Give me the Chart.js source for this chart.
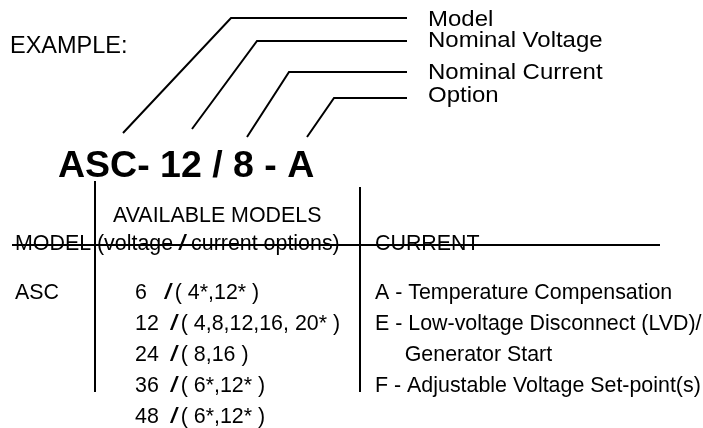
<!DOCTYPE html>
<html>
<head>
<meta charset="utf-8">
<script src="https://cdn.jsdelivr.net/npm/chart.js@4"></script>
<style>
    body { margin: 0; background: #fff; }
    canvas { display: block; }
</style>
</head>
<body>
<canvas id="chart" width="703" height="428"></canvas>
<script>
// part number example
const partNumber = 'ASC- 12 / 8 - A';
const partFields = ['Model', 'Nominal Voltage', 'Nominal Current', 'Option'];
const fieldLabelY = [20, 41, 73, 96];

// leader lines, one polyline for each field (diagram units)
const leaderLines = [
    [[123, 133], [231, 18], [407, 18]],
    [[192, 129], [257, 41], [407, 41]],
    [[247, 137], [289, 72], [407, 72]],
    [[307, 137], [334, 98], [407, 98]]
];

// table rules
const tableLines = [
    [[95, 181], [95, 392]],
    [[360, 187], [360, 392]],
    [[12, 245], [660, 245]]
];

// available models table
const modelName = 'ASC';
const voltages = ['6', '12', '24', '36', '48'];
const currents = ['( 4*,12* )', '( 4,8,12,16, 20* )', '( 8,16 )', '( 6*,12* )', '( 6*,12* )'];
const optionCodes = ['A - Temperature Compensation', 'E - Low-voltage Disconnect (LVD)/', '     Generator Start', 'F - Adjustable Voltage Set-point(s)'];

const font = '"Liberation Sans", Arial, sans-serif';

const toPoints = line => line.map(p => ({x: p[0], y: p[1]}));

const datasets = [...leaderLines, ...tableLines].map(line => ({
    data: toPoints(line),
    showLine: true,
    borderColor: '#000',
    borderWidth: 2,
    pointRadius: 0,
    fill: false
}));

//draw all the text through the scales
const textPlugin = {
    id: 'diagramText',
    afterDatasetsDraw(chart) {
        const ctx = chart.ctx;
        const sx = chart.scales.x;
        const sy = chart.scales.y;
        // returns the value where the text ends
        const put = (text, x, y, style, stretch = 1) => {
            const px = sx.getPixelForValue(x);
            ctx.font = style;
            ctx.save();
            ctx.translate(px, sy.getPixelForValue(y));
            ctx.scale(stretch, 1);
            ctx.fillText(text, 0, 0);
            ctx.restore();
            return sx.getValueForPixel(px + ctx.measureText(text).width * stretch);
        };
        ctx.save();
        ctx.fillStyle = '#000';
        ctx.textBaseline = 'middle';

        const reg = '21.4px ' + font;
        const slash = 'bold italic 22px ' + font;

        put('EXAMPLE:', 10, 47, '23.5px ' + font);
        put(partNumber, 58, 167, 'bold 37.5px ' + font);

        partFields.forEach((f, i) => put(f, 428, fieldLabelY[i], '22px ' + font, 1.09));

        // header
        put('AVAILABLE MODELS', 113, 216, reg);
        put('MODEL', 15, 244, reg);
        let x = put('(voltage ', 97, 244, reg);
        x = put('/', x, 244, slash);
        put(' current options)', x, 244, reg);
        put('CURRENT', 375, 244, reg);

        // rows
        const rowY = i => 293 + i * 31;
        put(modelName, 15, rowY(0), reg);
        voltages.forEach((v, i) => {
            let vx = put(v.padEnd(4), 135, rowY(i), reg);
            vx = put('/', vx, rowY(i), slash);
            put(' ' + currents[i], vx - 2, rowY(i), reg);
        });
        optionCodes.forEach((o, i) => put(o, 375, rowY(i), reg));

        ctx.restore();
    }
};

const chart = document.querySelector('#chart').getContext('2d');

new Chart(chart, {
    type: 'scatter',
    data: { datasets: datasets },
    options: {
        responsive: false,
        animation: false,
        layout: { padding: 0 },
        scales: {
            x: { type: 'linear', min: 0, max: 703, display: false },
            y: { type: 'linear', min: 0, max: 428, reverse: true, display: false }
        },
        plugins: {
            legend: { display: false },
            tooltip: { enabled: false }
        }
    },
    plugins: [textPlugin]
});
</script>
</body>
</html>
